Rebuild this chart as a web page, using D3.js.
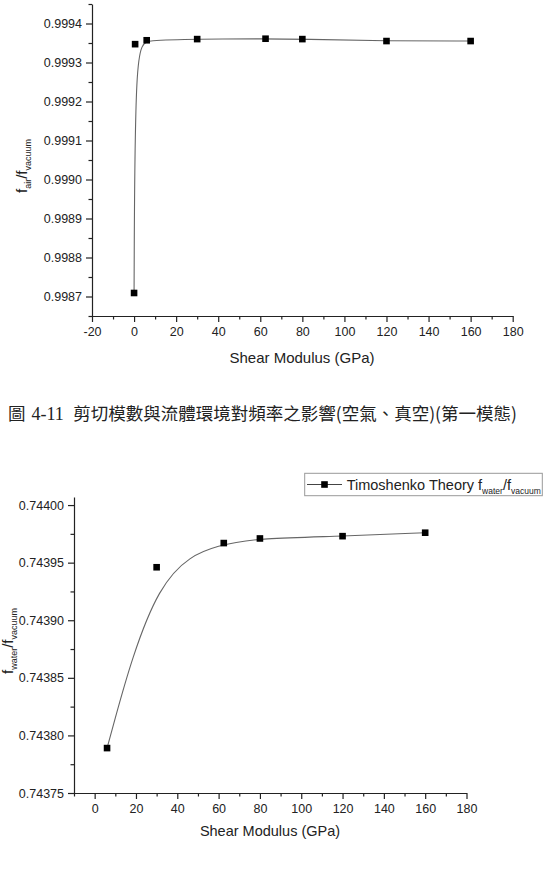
<!DOCTYPE html>
<html>
<head>
<meta charset="utf-8">
<script src="https://cdn.jsdelivr.net/npm/d3@7"></script>
<style>
  body { margin: 0; background: #fff; }
  svg text { font-family: Arial, "Liberation Sans", sans-serif; fill: #222; }
</style>
</head>
<body>
<svg id="chart" width="548" height="870"></svg>
<script>
// top chart: f_air / f_vacuum
var airShear = [0, 0.5, 6, 30, 62.5, 80, 120, 160];
var airRatio = [0.998709, 0.999347, 0.999357, 0.99936, 0.999361, 0.99936, 0.999355, 0.999355];
var airYTicks = [0.9987, 0.9988, 0.9989, 0.9990, 0.9991, 0.9992, 0.9993, 0.9994];
var airXTicks = [-20, 0, 20, 40, 60, 80, 100, 120, 140, 160, 180];

// bottom chart: f_water / f_vacuum
var waterShear = [6, 30, 62.5, 80, 120, 160];
var waterRatio = [0.743789, 0.743946, 0.743967, 0.743971, 0.743973, 0.743976];
var waterYTicks = [0.74375, 0.74380, 0.74385, 0.74390, 0.74395, 0.74400];
var waterXTicks = [0, 20, 40, 60, 80, 100, 120, 140, 160, 180];

var svg = d3.select("#chart");

function halfSteps(ticks, lo, hi) {
  // minor ticks half way between the major ones
  var step = ticks[1] - ticks[0];
  var out = [];
  for (var i = 0; i < ticks.length; i++) {
    var m = ticks[i] + step / 2;
    if (m <= hi + 1e-12) out.push(m);
    var b = ticks[i] - step / 2;
    if (i === 0 && b >= lo - 1e-12) out.push(b);
  }
  return out;
}

function drawPanel(opt) {
  var x = d3.scaleLinear().domain(opt.xDomain).range(opt.xRange);
  var y = d3.scaleLinear().domain(opt.yDomain).range(opt.yRange);
  var g = svg.append("g");

  // minor ticks
  g.append("g")
    .attr("transform", "translate(0," + opt.yRange[0] + ")")
    .call(d3.axisBottom(x).tickValues(halfSteps(opt.xTicks, opt.xDomain[0], opt.xDomain[1])).tickSize(3.5).tickFormat(""))
    .call(a => a.select(".domain").remove());
  g.append("g")
    .attr("transform", "translate(" + opt.xRange[0] + ",0)")
    .call(d3.axisLeft(y).tickValues(halfSteps(opt.yTicks, opt.yDomain[0], opt.yDomain[1])).tickSize(3.5).tickFormat(""))
    .call(a => a.select(".domain").remove());

  // major axes (plain hyphen for negatives, as in the original)
  var xa = g.append("g")
    .attr("transform", "translate(0," + opt.yRange[0] + ")")
    .call(d3.axisBottom(x).tickValues(opt.xTicks).tickSize(6).tickSizeOuter(0).tickPadding(5).tickFormat(d => String(d)));
  xa.selectAll("text").style("font-size", "12.5px").attr("fill", "#222");
  var ya = g.append("g")
    .attr("transform", "translate(" + opt.xRange[0] + ",0)")
    .call(d3.axisLeft(y).tickValues(opt.yTicks).tickSize(6).tickSizeOuter(0).tickPadding(4).tickFormat(d3.format(opt.yFormat)));
  ya.selectAll("text").style("font-size", "12.5px").attr("fill", "#222");
  g.selectAll(".domain, .tick line").attr("stroke", "#222").attr("stroke-width", 1.2);

  var pts = opt.xs.map((d, i) => [d, opt.ys[i]]);

  g.append("path")
    .datum(pts)
    .attr("fill", "none")
    .attr("stroke", "#666")
    .attr("stroke-width", 1.1)
    .attr("d", d3.line().x(d => x(d[0])).y(d => y(d[1])).curve(d3.curveBasis));

  g.selectAll("rect.pt")
    .data(pts)
    .enter().append("rect")
    .attr("class", "pt")
    .attr("x", d => x(d[0]) - 3.3)
    .attr("y", d => y(d[1]) - 3.3)
    .attr("width", 6.6)
    .attr("height", 6.6)
    .attr("fill", "#000");

  svg.append("text")
    .attr("x", opt.titleX)
    .attr("y", opt.titleY)
    .attr("text-anchor", "middle")
    .style("font-size", opt.titleSize + "px")
    .text("Shear Modulus (GPa)");

  var yl = svg.append("text")
    .attr("transform", "translate(" + opt.labelX + "," + opt.labelY + ") rotate(-90)")
    .attr("text-anchor", "middle")
    .style("font-size", "15px");
  yl.append("tspan").text("f");
  yl.append("tspan").attr("dy", 3.5).style("font-size", "9px").text(opt.medium);
  yl.append("tspan").attr("dy", -3.5).text("/f");
  yl.append("tspan").attr("dy", 3.5).style("font-size", "9px").text("vacuum");
}

drawPanel({
  xs: airShear, ys: airRatio,
  xDomain: [-20, 180], xRange: [92, 512.7],
  yDomain: [0.99865, 0.99945], yRange: [316, 4],
  xTicks: airXTicks, yTicks: airYTicks, yFormat: ".4f",
  titleX: 302, titleY: 363, titleSize: 15,
  labelX: 27, labelY: 166, medium: "air"
});

drawPanel({
  xs: waterShear, ys: waterRatio,
  xDomain: [-10, 180], xRange: [74, 466.5],
  yDomain: [0.74375, 0.744007], yRange: [793, 497],
  xTicks: waterXTicks, yTicks: waterYTicks, yFormat: ".5f",
  titleX: 270, titleY: 836, titleSize: 14.5,
  labelX: 13, labelY: 641, medium: "water"
});

// legend of the bottom chart
var lg = svg.append("g");
lg.append("rect")
  .attr("x", 304.7).attr("y", 473.3)
  .attr("width", 237.6).attr("height", 22.4)
  .attr("fill", "#fff").attr("stroke", "#999").attr("stroke-width", 1);
lg.append("line")
  .attr("x1", 307).attr("x2", 342).attr("y1", 484.5).attr("y2", 484.5)
  .attr("stroke", "#444").attr("stroke-width", 1.1);
lg.append("rect")
  .attr("x", 324.5 - 3.3).attr("y", 484.5 - 3.3)
  .attr("width", 6.6).attr("height", 6.6).attr("fill", "#000");
var lt = lg.append("text").attr("x", 346.7).attr("y", 489.5).style("font-size", "14.5px");
lt.append("tspan").text("Timoshenko Theory f");
lt.append("tspan").attr("dy", 4).style("font-size", "8.5px").text("water");
lt.append("tspan").attr("dy", -4).text("/f");
lt.append("tspan").attr("dy", 4).style("font-size", "8.5px").text("vacuum");

// figure caption
var cap = svg.append("text")
  .attr("x", 8).attr("y", 420)
  .style("font-size", "17.5px")
  .style("font-family", "'Noto Sans CJK TC', 'Noto Sans CJK SC', sans-serif")
  .attr("fill", "#222");
cap.append("tspan").text("圖 ");
cap.append("tspan").attr("dx", 2).style("font-family", "'Liberation Serif', serif").style("font-size", "18px").text("4-11 ");
cap.append("tspan").attr("dx", 5).text("剪切模數與流體環境對頻率之影響(空氣、真空)(第一模態)");
</script>
</body>
</html>
